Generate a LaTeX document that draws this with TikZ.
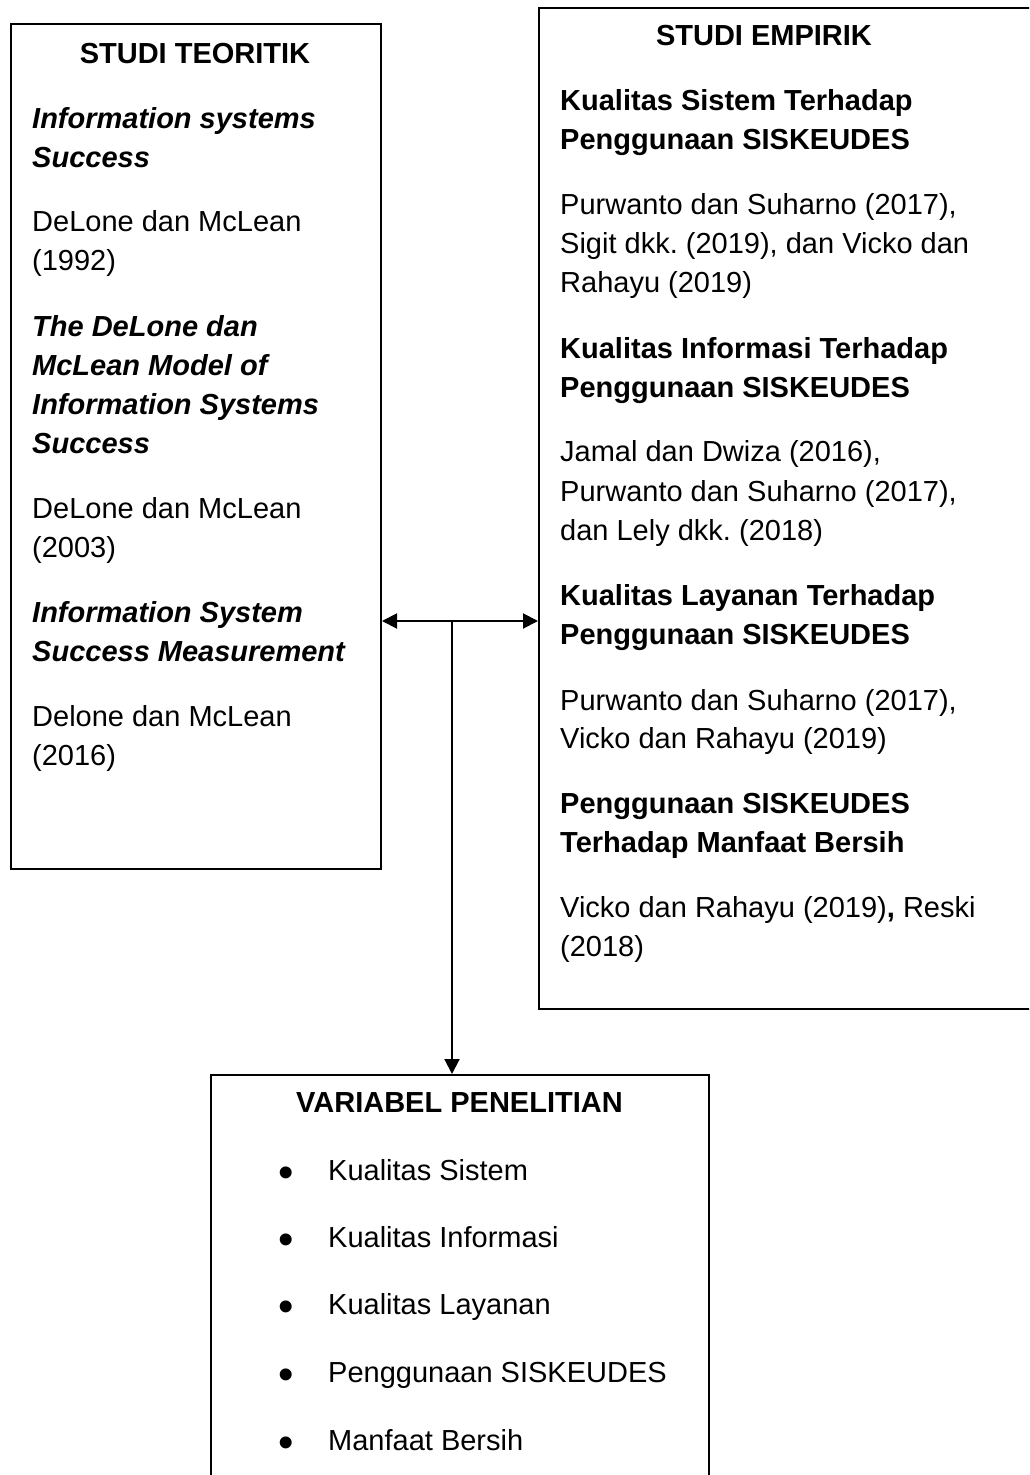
\documentclass[tikz,border=0pt]{standalone}
\usepackage{fontspec}
\setmainfont{Liberation Sans}
\usetikzlibrary{arrows.meta}
\frenchspacing
\begin{document}
\begin{tikzpicture}[x=1pt,y=-1pt,
  box/.style={draw=black,line width=2pt,rectangle,anchor=north west,inner sep=0pt},
  txt/.style={inner sep=0pt,anchor=base west,font=\fontsize{29}{35}\selectfont},
  bt/.style={txt,font=\fontsize{29}{35}\selectfont\bfseries},
  bit/.style={txt,font=\fontsize{29}{35}\selectfont\bfseries\itshape},
  ttl/.style={bt,anchor=base},
  bul/.style={inner sep=0pt,anchor=base,font=\fontsize{44}{44}\selectfont},
  conn/.style={line width=2pt,draw=black},
  tip/.tip={Triangle[length=15pt,width=15pt]}]
\useasboundingbox (0,0) rectangle (1029,1475);
\clip (0,0) rectangle (1029,1475);
\fill[white] (0,0) rectangle (1029,1475);

% boxes
\node[box,minimum width=370pt,minimum height=845pt] (teori) at (10,23) {};
\node[box,minimum width=500pt,minimum height=1001pt] (empiris) at (538,7) {};
\node[box,minimum width=498pt,minimum height=440pt] (var) at (210,1074) {};

% left box text
\node[ttl] (t0) at (195,63) {STUDI TEORITIK};
\node[bit] (t1) at (32,128) {Information systems};
\node[bit] (t2) at (32,167) {Success};
\node[txt] (t3) at (32,231) {DeLone dan McLean};
\node[txt] (t4) at (32,270) {(1992)};
\node[bit] (t5) at (32,336) {The DeLone dan};
\node[bit] (t6) at (32,375) {McLean Model of};
\node[bit] (t7) at (32,414) {Information Systems};
\node[bit] (t8) at (32,453) {Success};
\node[txt] (t9) at (32,518) {DeLone dan McLean};
\node[txt] (t10) at (32,557) {(2003)};
\node[bit] (t11) at (32,622) {Information System};
\node[bit] (t12) at (32,661) {Success Measurement};
\node[txt] (t13) at (32,726) {Delone dan McLean};
\node[txt] (t14) at (32,765) {(2016)};

% right box text
\node[ttl] (e0) at (764,45) {STUDI EMPIRIK};
\node[bt] (e1) at (560,110) {Kualitas Sistem Terhadap};
\node[bt] (e2) at (560,149) {Penggunaan SISKEUDES};
\node[txt] (e3) at (560,214) {Purwanto dan Suharno (2017),};
\node[txt] (e4) at (560,253) {Sigit dkk. (2019), dan Vicko dan};
\node[txt] (e5) at (560,292) {Rahayu (2019)};
\node[bt] (e6) at (560,358) {Kualitas Informasi Terhadap};
\node[bt] (e7) at (560,397) {Penggunaan SISKEUDES};
\node[txt] (e8) at (560,461) {Jamal dan Dwiza (2016),};
\node[txt] (e9) at (560,501) {Purwanto dan Suharno (2017),};
\node[txt] (e10) at (560,540) {dan Lely dkk. (2018)};
\node[bt] (e11) at (560,605) {Kualitas Layanan Terhadap};
\node[bt] (e12) at (560,644) {Penggunaan SISKEUDES};
\node[txt] (e13) at (560,710) {Purwanto dan Suharno (2017),};
\node[txt] (e14) at (560,748) {Vicko dan Rahayu (2019)};
\node[bt] (e15) at (560,813) {Penggunaan SISKEUDES};
\node[bt] (e16) at (560,852) {Terhadap Manfaat Bersih};
\node[txt] (e17) at (560,917) {Vicko dan Rahayu (2019)\textbf{,} Reski};
\node[txt] (e18) at (560,956) {(2018)};

% bottom box text
\node[ttl] (v0) at (459.5,1112) {VARIABEL PENELITIAN};
\node[bul] (b1) at (286,1187) {•};
\node[txt] (v1) at (328,1180) {Kualitas Sistem};
\node[bul] (b2) at (286,1254) {•};
\node[txt] (v2) at (328,1247) {Kualitas Informasi};
\node[bul] (b3) at (286,1321) {•};
\node[txt] (v3) at (328,1314) {Kualitas Layanan};
\node[bul] (b4) at (286,1389) {•};
\node[txt] (v4) at (328,1382) {Penggunaan SISKEUDES};
\node[bul] (b5) at (286,1457) {•};
\node[txt] (v5) at (328,1450) {Manfaat Bersih};

% connectors
\coordinate (j) at (452,621);
\draw[conn,{tip}-{tip}] (teori.east |- j) -- (empiris.west |- j);
\draw[conn,-{tip}] (j) -- (j |- var.north);
\end{tikzpicture}
\end{document}
